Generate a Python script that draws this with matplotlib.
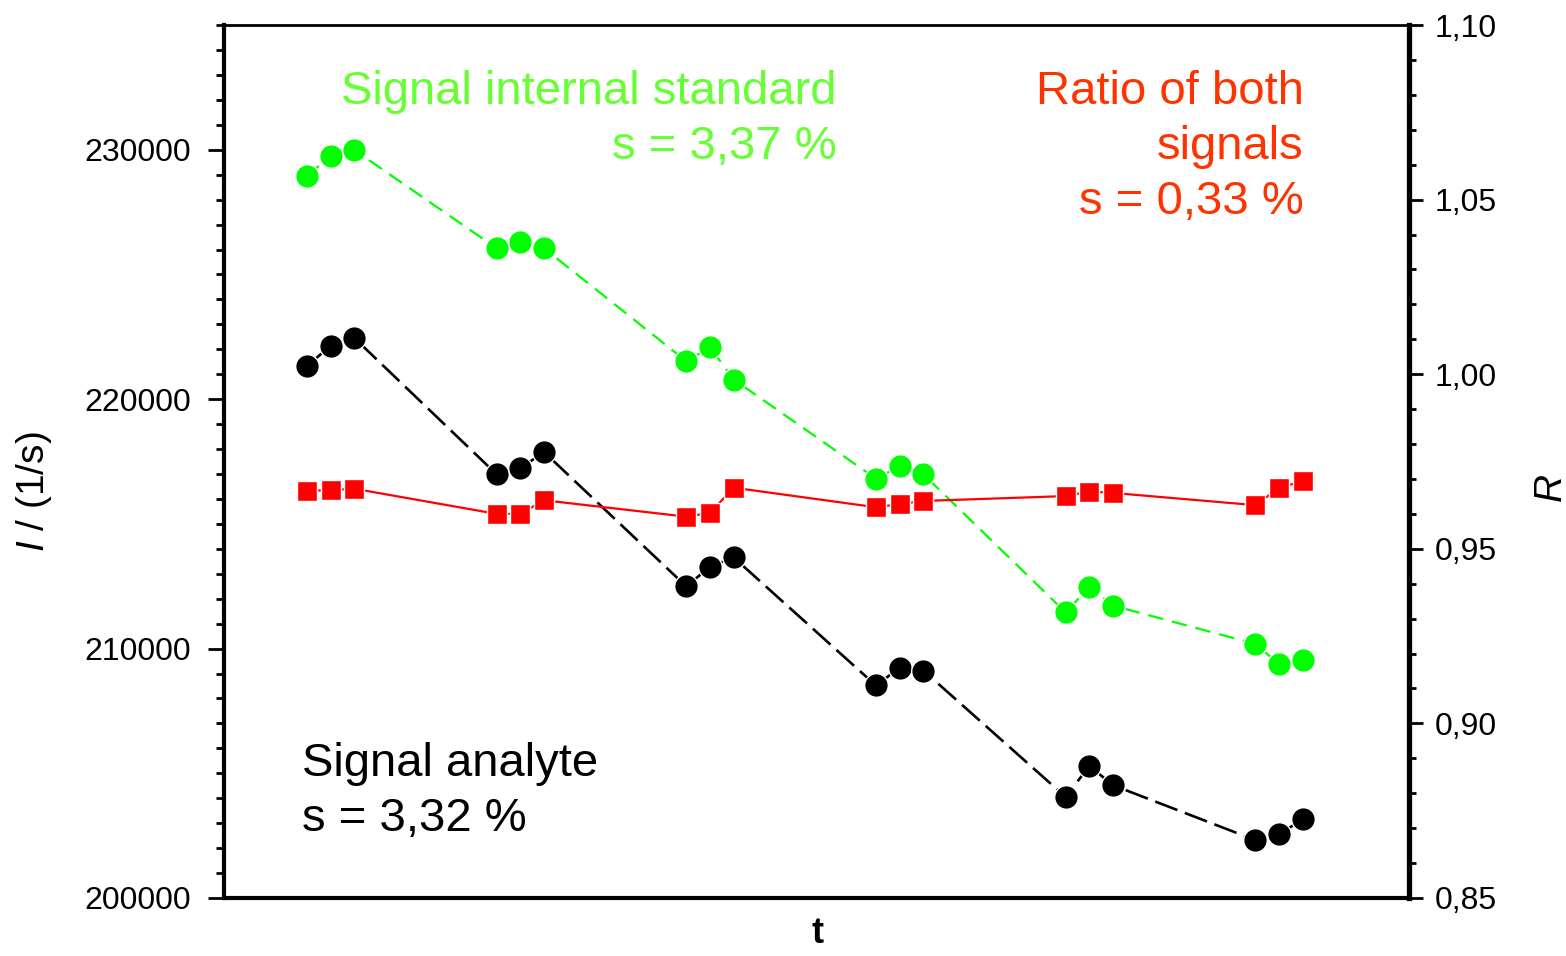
import matplotlib
matplotlib.use("Agg")
import matplotlib.pyplot as plt
from matplotlib.ticker import MultipleLocator, FuncFormatter

plt.rcParams["font.family"] = ["Liberation Sans", "DejaVu Sans"]
plt.rcParams["mathtext.fontset"] = "custom"
plt.rcParams["mathtext.rm"] = "Liberation Sans"
plt.rcParams["mathtext.it"] = "Liberation Sans:italic"

# measurement index: 6 blocks of 3 repeated measurements
t_values = [0, 1, 2, 8, 9, 10, 16, 17, 18, 24, 25, 26, 32, 33, 34, 40, 41, 42]

# intensity of the analyte (1/s)
analyte = [221320, 222148, 222452, 216988, 217228, 217880,
           212492, 213280, 213652, 208520, 209228, 209120,
           204052, 205292, 204520, 202320, 202548, 203160]

# intensity of the internal standard (1/s)
internal_std = [228948, 229748, 229988, 226052, 226292, 226052,
                221520, 222080, 220788, 216812, 217308, 216988,
                211452, 212468, 211720, 210188, 209372, 209560]

# ratio R of both signals
ratio = [0.9666, 0.9668, 0.9672, 0.9600, 0.9600, 0.9639,
         0.9592, 0.9603, 0.9675, 0.9619, 0.9628, 0.9637,
         0.9651, 0.9664, 0.9660, 0.9625, 0.9674, 0.9694]

fig = plt.figure(figsize=(15.66, 9.56), dpi=100)
ax = fig.add_axes([0.143, 0.0607, 0.757, 0.9131])
ax2 = ax.twinx()

ax.plot(t_values, internal_std, color="#00FF00", lw=1.6, dashes=(7, 4),
        marker="o", ms=17, mec="white", mew=1.0, zorder=3)
ax.plot(t_values, analyte, color="black", lw=1.9, dashes=(9, 3),
        marker="o", ms=17, mec="white", mew=1.0, zorder=3)
ax2.plot(t_values, ratio, color="#FF0000", lw=1.6,
         marker="s", ms=14, mec="white", mew=1.0, zorder=3)

ax.set_xlim(-3.5, 46.5)
ax.set_ylim(200000, 235000)
ax2.set_ylim(0.85, 1.10)

ax.yaxis.set_minor_locator(MultipleLocator(1000))
ax.set_yticks([200000, 210000, 220000, 230000])
ax2.yaxis.set_major_locator(MultipleLocator(0.05))
ax2.yaxis.set_minor_locator(MultipleLocator(0.01))
ax2.yaxis.set_major_formatter(FuncFormatter(lambda v, p: f"{v:.2f}".replace(".", ",")))

ax.set_xticks([])
ax.tick_params(axis="y", which="major", length=11.5, width=2, labelsize=23, pad=12)
ax.tick_params(axis="y", which="minor", length=6, width=2)
ax2.tick_params(axis="y", which="major", length=10, width=2, labelsize=23, pad=8)
ax2.tick_params(axis="y", which="minor", length=5, width=2)

ax.spines["left"].set_linewidth(3)
ax.spines["bottom"].set_linewidth(3)
ax.spines["top"].set_linewidth(2)
ax2.spines["right"].set_linewidth(3.8)
for s in ["left", "bottom", "top"]:
    ax2.spines[s].set_visible(False)

ax.set_ylabel("$I$ / (1/s)", fontsize=28)
ax.yaxis.set_label_coords(-0.143, 0.465)
ax2.set_ylabel("R", fontsize=28, fontstyle="italic", rotation=90)
ax2.yaxis.set_label_coords(1.104, 0.471)
ax.set_xlabel("t", fontsize=26, fontweight="bold")
ax.xaxis.set_label_coords(0.501, -0.021)

ax.text(0.517, 0.948, "Signal internal standard\ns = 3,37 %", transform=ax.transAxes,
        ha="right", va="top", fontsize=34, color="#66FF33", linespacing=1.32,
        multialignment="right")
ax.text(0.911, 0.948, "Ratio of both\nsignals\ns = 0,33 %", transform=ax.transAxes,
        ha="right", va="top", fontsize=34, color="#FF3300", linespacing=1.32,
        multialignment="right")
ax.text(0.066, 0.179, "Signal analyte\ns = 3,32 %", transform=ax.transAxes,
        ha="left", va="top", fontsize=34, color="black", linespacing=1.32)

fig.savefig("out.png", dpi=100)
